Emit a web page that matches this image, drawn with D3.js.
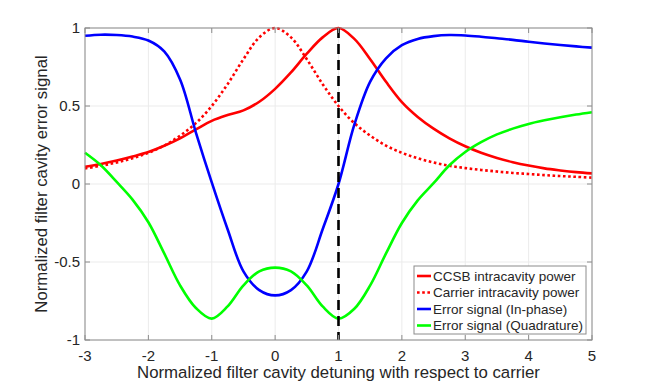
<!DOCTYPE html>
<html lang="en">
<head>
    <meta charset="UTF-8">
    <title>Filter cavity error signal</title>
    <script src="https://d3js.org/d3.v7.min.js"></script>
    <style>
        body { margin: 0; background: #fff; }
        svg text { font-family: "Liberation Sans", Arial, Helvetica, sans-serif; fill: #262626; }
        .grid line { stroke: #ebebeb; stroke-width: 1; }
        .box { fill: none; stroke: #8c8c8c; stroke-width: 1; }
    </style>
</head>
<body>
<svg id="viz" width="654" height="383"></svg>
<script>
    // Detuning samples (normalized)
    const detuning = [-3, -2.75, -2.5, -2.25, -2, -1.75, -1.5, -1.25, -1, -0.75, -0.5, -0.25, 0,
        0.25, 0.5, 0.75, 1, 1.25, 1.5, 1.75, 2, 2.25, 2.5, 2.75, 3, 3.25, 3.5, 3.75, 4, 4.25, 4.5, 4.75, 5];

    const ccsbPower = [0.11, 0.128, 0.15, 0.176, 0.205, 0.245, 0.293, 0.35, 0.405, 0.442, 0.472, 0.527, 0.61,
        0.715, 0.835, 0.94, 1.0, 0.93, 0.80, 0.655, 0.525, 0.43, 0.355, 0.293, 0.242, 0.20, 0.167, 0.14, 0.118, 0.10, 0.087, 0.076, 0.068];

    const carrierPower = [0.10, 0.117, 0.138, 0.165, 0.20, 0.246, 0.31, 0.39, 0.50, 0.64, 0.80, 0.94, 1.0,
        0.94, 0.80, 0.64, 0.50, 0.39, 0.31, 0.246, 0.20, 0.165, 0.138, 0.117, 0.102, 0.09, 0.08, 0.071, 0.064, 0.057, 0.051, 0.046, 0.041];

    const errorInPhase = [0.95, 0.957, 0.955, 0.945, 0.92, 0.85, 0.67, 0.33, 0.01, -0.29, -0.56, -0.68, -0.714,
        -0.68, -0.56, -0.29, 0.0, 0.38, 0.656, 0.806, 0.89, 0.93, 0.948, 0.955, 0.952, 0.944, 0.934, 0.924, 0.912, 0.901, 0.891, 0.882, 0.874];

    const errorQuadrature = [0.20, 0.12, 0.013, -0.10, -0.245, -0.445, -0.65, -0.795, -0.863, -0.785, -0.65, -0.56, -0.536,
        -0.56, -0.65, -0.785, -0.863, -0.80, -0.65, -0.445, -0.25, -0.105, 0.005, 0.12, 0.205, 0.268, 0.318, 0.355, 0.385, 0.408, 0.428, 0.445, 0.46];

    const xTicks = [-3, -2, -1, 0, 1, 2, 3, 4, 5];
    const yTicks = [-1, -0.5, 0, 0.5, 1];
    const markerX = 1;

    const series = [
        { name: "CCSB intracavity power", values: ccsbPower, color: "#ff0000", dash: null },
        { name: "Carrier intracavity power", values: carrierPower, color: "#ff0000", dash: "2.6,2.6" },
        { name: "Error signal (In-phase)", values: errorInPhase, color: "#0000ff", dash: null },
        { name: "Error signal (Quadrature)", values: errorQuadrature, color: "#00ff00", dash: null }
    ];

    const width = 654, height = 383;
    const margin = { top: 28, right: 62, bottom: 43, left: 85 };
    const svg = d3.select("#viz");

    const x = d3.scaleLinear().domain([-3, 5]).range([margin.left, width - margin.right]);
    const y = d3.scaleLinear().domain([-1, 1]).range([height - margin.bottom, margin.top]);

    // Grid
    const grid = svg.append("g").attr("class", "grid");
    grid.selectAll(".gx").data(xTicks).join("line")
        .attr("x1", d => x(d)).attr("x2", d => x(d))
        .attr("y1", y(-1)).attr("y2", y(1));
    grid.selectAll(".gy").data(yTicks).join("line")
        .attr("y1", d => y(d)).attr("y2", d => y(d))
        .attr("x1", x(-3)).attr("x2", x(5));

    // Curves
    const line = d3.line()
        .x((d, i) => x(detuning[i]))
        .y(d => y(d))
        .curve(d3.curveCatmullRom.alpha(0.5));

    const plot = svg.append("g");
    series.forEach(s => {
        plot.append("path")
            .attr("d", line(s.values))
            .attr("fill", "none")
            .attr("stroke", s.color)
            .attr("stroke-width", 2.6)
            .attr("stroke-dasharray", s.dash);
    });

    // Vertical dashed marker at detuning = 1
    plot.append("line")
        .attr("x1", x(markerX)).attr("x2", x(markerX))
        .attr("y1", y(1)).attr("y2", y(-1))
        .attr("stroke", "#000")
        .attr("stroke-width", 2.6)
        .attr("stroke-dasharray", "10,6");

    // Axes box and inward ticks
    svg.append("rect").attr("class", "box")
        .attr("x", x(-3)).attr("y", y(1))
        .attr("width", x(5) - x(-3)).attr("height", y(-1) - y(1));

    const tickLen = 5;
    const ticks = svg.append("g").attr("stroke", "#8c8c8c").attr("stroke-width", 1);
    xTicks.forEach(t => {
        ticks.append("line").attr("x1", x(t)).attr("x2", x(t)).attr("y1", y(-1)).attr("y2", y(-1) - tickLen);
        ticks.append("line").attr("x1", x(t)).attr("x2", x(t)).attr("y1", y(1)).attr("y2", y(1) + tickLen);
    });
    yTicks.forEach(t => {
        ticks.append("line").attr("y1", y(t)).attr("y2", y(t)).attr("x1", x(-3)).attr("x2", x(-3) + tickLen);
        ticks.append("line").attr("y1", y(t)).attr("y2", y(t)).attr("x1", x(5)).attr("x2", x(5) - tickLen);
    });

    // Tick labels
    svg.append("g").selectAll("text").data(xTicks).join("text")
        .attr("x", d => x(d)).attr("y", y(-1) + 21)
        .attr("text-anchor", "middle")
        .attr("font-size", 15)
        .text(d => d);
    svg.append("g").selectAll("text").data(yTicks).join("text")
        .attr("x", x(-3) - 5).attr("y", d => y(d) + 5)
        .attr("text-anchor", "end")
        .attr("font-size", 15)
        .text(d => d);

    // Axis labels
    svg.append("text")
        .attr("x", (x(-3) + x(5)) / 2).attr("y", 378)
        .attr("text-anchor", "middle")
        .attr("font-size", 16.8)
        .text("Normalized filter cavity detuning with respect to carrier");
    svg.append("text")
        .attr("transform", `translate(47,${(y(-1) + y(1)) / 2}) rotate(-90)`)
        .attr("text-anchor", "middle")
        .attr("font-size", 16.8)
        .text("Normalized filter cavity error signal");

    // Legend
    const lg = svg.append("g").attr("transform", "translate(414,266)");
    lg.append("rect")
        .attr("width", 172).attr("height", 68)
        .attr("fill", "#fff").attr("stroke", "#8c8c8c").attr("stroke-width", 1);
    series.forEach((s, i) => {
        const cy = 10 + i * 16.5;
        lg.append("line")
            .attr("x1", 3).attr("x2", 17).attr("y1", cy).attr("y2", cy)
            .attr("stroke", s.color).attr("stroke-width", 2.6)
            .attr("stroke-dasharray", s.dash);
        lg.append("text")
            .attr("x", 19).attr("y", cy + 4.5)
            .attr("font-size", 13.5)
            .text(s.name);
    });
</script>
</body>
</html>
